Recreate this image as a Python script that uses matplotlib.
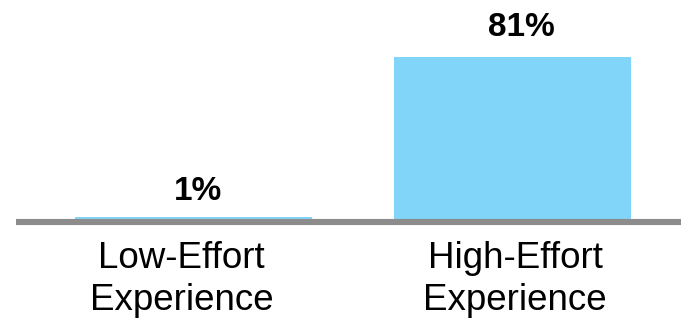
import matplotlib.pyplot as plt
from matplotlib import rcParams

# Chart data
categories = ["Low-Effort\nExperience", "High-Effort\nExperience"]
values = [1, 81]
value_labels = ["1%", "81%"]

# Style
rcParams["font.family"] = ["Liberation Sans", "DejaVu Sans"]
bar_color = "#81D5F8"
line_color = "#8C8C8C"
px = 1 / 319  # one pixel in x data units

fig = plt.figure(figsize=(6.81, 3.21), dpi=100)
# Axes bottom sits on the baseline, 2 px per percentage point
ax = fig.add_axes([0, 102 / 321, 1, 219 / 321])
ax.set_xlim(-193.5 / 319, (681 - 193.5) / 319)
ax.set_ylim(0, 109.5)
ax.axis("off")

x = list(range(len(categories)))
ax.bar(x, values, width=0.74, color=bar_color, zorder=2)

# Gray baseline under the bars
ax.plot([-0.555, 2], [-1.5, -1.5], color=line_color, linewidth=4.4,
        solid_capstyle="butt", clip_on=False, zorder=3)

# Value labels above bars
value_dx = [4, 9]
value_dy = [8.5, 10.5]
for xi, v, lab, dx, dy in zip(x, values, value_labels, value_dx, value_dy):
    ax.text(xi + dx * px, v + dy, lab, ha="center", va="baseline", fontsize=24,
            fontweight="bold", color="black")

# Category labels, one text per line
cat_dx = [-12, 2.5]
for xi, cat, dx in zip(x, categories, cat_dx):
    for i, line in enumerate(cat.split("\n")):
        ax.text(xi + dx * px, -24.5 - 21 * i, line, ha="center", va="baseline",
                fontsize=26.5, color="black", clip_on=False)

plt.savefig("out.png", dpi=100)
